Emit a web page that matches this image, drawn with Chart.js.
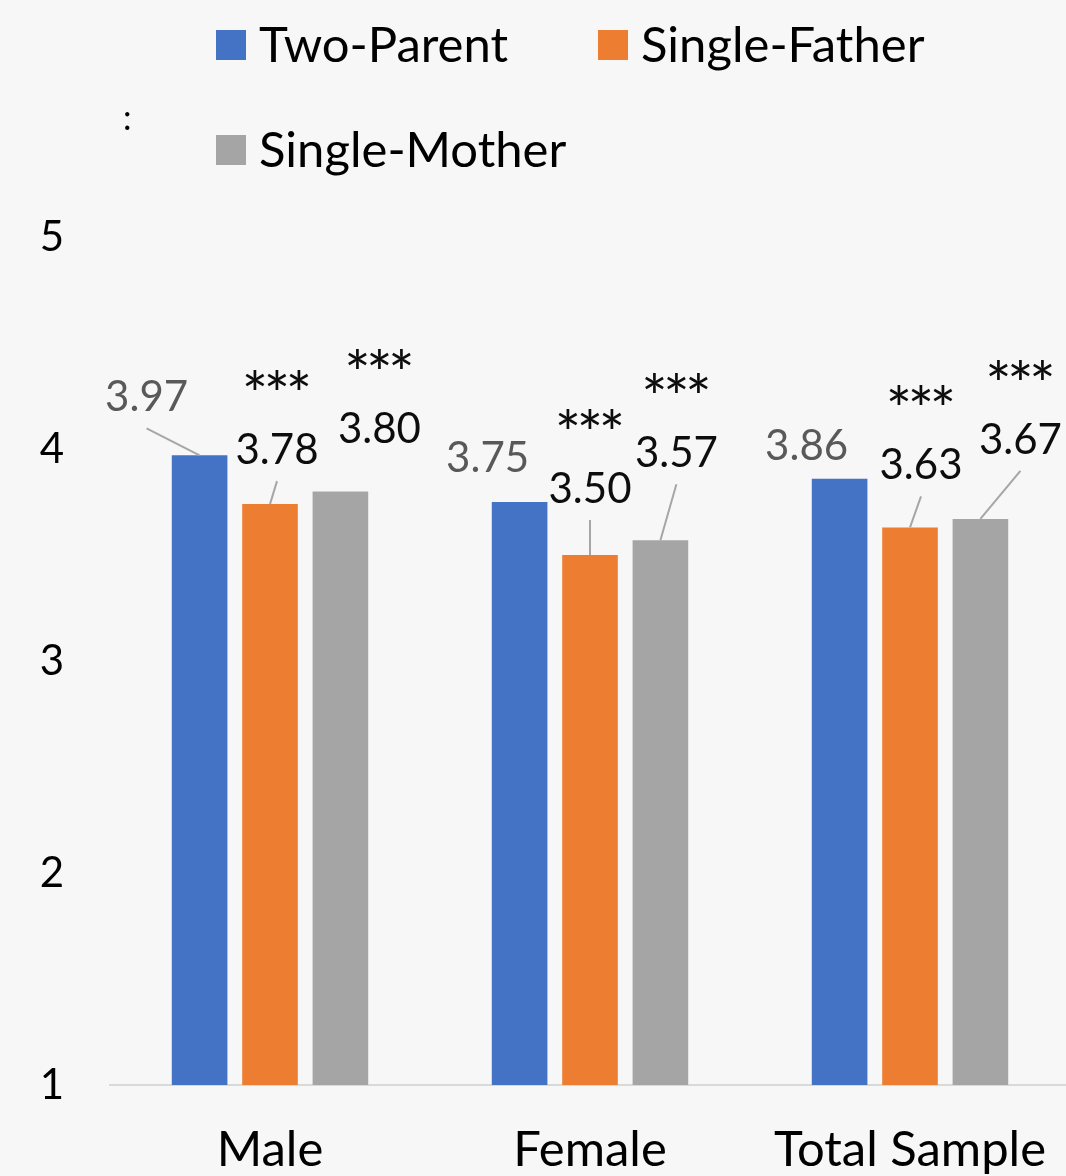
<!DOCTYPE html>
<html>
<head>
<meta charset="utf-8">
<script src="https://cdn.jsdelivr.net/npm/chart.js@4.4.1/dist/chart.umd.min.js"></script>
<style>
  html, body { margin: 0; padding: 0; background: #f7f7f7; overflow: hidden; }
  #wrap { width: 1066px; height: 1176px; overflow: hidden; }
  canvas { display: block; }
</style>
</head>
<body>
<div id="wrap"><canvas id="chart" width="1070" height="1176" style="width:1070px;height:1176px"></canvas></div>
<script>
const categories = ['Male', 'Female', 'Total Sample'];
const seriesNames = ['Two-Parent', 'Single-Father', 'Single-Mother'];
const twoParent = [3.97, 3.75, 3.86];
const singleFather = [3.74, 3.50, 3.63];
const singleMother = [3.80, 3.57, 3.67];
const twoParentLabels = ['3.97', '3.75', '3.86'];
const singleFatherLabels = ['3.78', '3.50', '3.63'];
const singleMotherLabels = ['3.80', '3.57', '3.67'];
const twoParentStars = ['', '', ''];
const singleFatherStars = ['***', '***', '***'];
const singleMotherStars = ['***', '***', '***'];
const yTicks = [1, 2, 3, 4, 5];

const colors = ['#4472c4', '#ed7d31', '#a5a5a5'];
const FONT = 'Lato';

// label placement relative to bar top (dx, dy) and whether a leader line is drawn
const labelPos = [
    [[-53, -59, true], [-32, -45, false], [-33, -34, false]],
    [[7, -55, true], [0, -67, true], [11, -63, true]],
    [[39, -63, false], [16, -88, true], [40, -80, true]]
];

const bgPlugin = {
    id: 'bg',
    beforeDraw(chart) {
        const ctx = chart.ctx;
        ctx.save();
        ctx.fillStyle = '#f7f7f7';
        ctx.fillRect(0, 0, chart.width, chart.height);
        ctx.restore();
    }
};

const legendPlugin = {
    id: 'customLegend',
    afterDraw(chart) {
        const ctx = chart.ctx;
        const spots = [[216, 30], [598, 30], [216, 135]];
        ctx.save();
        ctx.font = '49px ' + FONT;
        ctx.textBaseline = 'alphabetic';
        ctx.textAlign = 'left';
        chart.data.datasets.forEach((ds, i) => {
            const [x, y] = spots[i];
            ctx.fillStyle = ds.backgroundColor;
            ctx.fillRect(x, y, 30, 30);
            ctx.fillStyle = '#000';
            ctx.fillText(ds.label, x + 43, y + 32);
        });
        ctx.font = '34px ' + FONT;
        ctx.fillText(':', 123, 130);
        ctx.restore();
    }
};

const valueLabels = {
    id: 'valueLabels',
    afterDatasetsDraw(chart) {
        const ctx = chart.ctx;
        const texts = [twoParentLabels, singleFatherLabels, singleMotherLabels];
        const stars = [twoParentStars, singleFatherStars, singleMotherStars];
        ctx.save();
        chart.data.datasets.forEach((ds, i) => {
            const meta = chart.getDatasetMeta(i);
            meta.data.forEach((bar, j) => {
                const [dx, dy, leader] = labelPos[i][j];
                const lx = bar.x + dx;
                const ly = bar.y + dy;
                if (leader) {
                    ctx.strokeStyle = '#a6a6a6';
                    ctx.lineWidth = 2;
                    ctx.beginPath();
                    ctx.moveTo(lx, ly + 32);
                    ctx.lineTo(bar.x, bar.y);
                    ctx.stroke();
                }
                ctx.font = '42px ' + FONT;
                ctx.textAlign = 'center';
                ctx.textBaseline = 'alphabetic';
                ctx.fillStyle = i === 0 ? '#595959' : '#0d0d0d';
                ctx.fillText(texts[i][j], lx, ly + 15);
                const s = stars[i][j];
                if (s) {
                    ctx.font = '62px ' + FONT;
                    ctx.fillStyle = '#0d0d0d';
                    for (let k = 0; k < s.length; k++) {
                        ctx.fillText(s[k], lx + (k - 1) * 22, ly - 67 + 35);
                    }
                }
            });
        });
        ctx.restore();
    }
};

new Chart(document.getElementById('chart'), {
    type: 'bar',
    data: {
        labels: categories,
        datasets: [
            { label: seriesNames[0], data: twoParent, backgroundColor: colors[0] },
            { label: seriesNames[1], data: singleFather, backgroundColor: colors[1] },
            { label: seriesNames[2], data: singleMother, backgroundColor: colors[2] }
        ]
    },
    options: {
        responsive: false,
        animation: false,
        devicePixelRatio: 1,
        categoryPercentage: 0.66,
        barPercentage: 0.79,
        layout: {
            padding: { top: 237, left: 0, right: 0, bottom: 0 }
        },
        plugins: {
            legend: { display: false },
            tooltip: { enabled: false }
        },
        scales: {
            x: {
                grid: { display: false },
                border: { color: '#d9d9d9', width: 2 },
                ticks: {
                    color: '#000',
                    font: { family: FONT, size: 49 },
                    padding: 28,
                    maxRotation: 0
                },
                afterFit(scale) {
                    scale.height = 91;
                    scale.paddingLeft = 0;
                    scale.paddingRight = 0;
                }
            },
            y: {
                min: 1,
                max: 5,
                grid: { display: false, drawTicks: false },
                border: { display: false },
                afterBuildTicks(scale) {
                    scale.ticks = yTicks.map(v => ({ value: v }));
                },
                ticks: {
                    color: '#000',
                    font: { family: FONT, size: 42 },
                    padding: 46
                },
                afterFit(scale) { scale.width = 110; }
            }
        }
    },
    plugins: [bgPlugin, legendPlugin, valueLabels]
});
</script>
</body>
</html>
